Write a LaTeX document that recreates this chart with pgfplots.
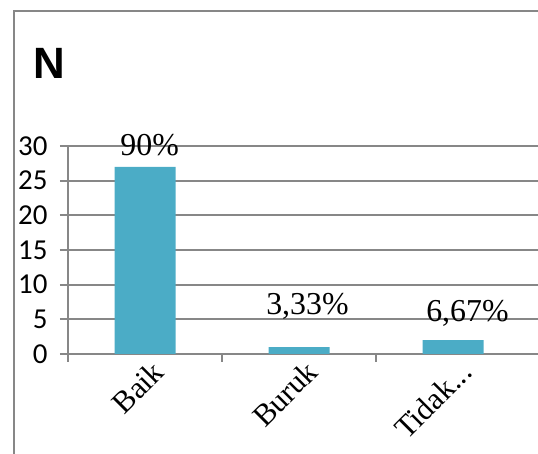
\documentclass[border=0pt]{standalone}
\usepackage{pgfplots}
\pgfplotsset{compat=1.18}
\usepackage{fontspec}
\setmainfont{Liberation Serif}
\newfontfamily\carlito{Carlito}
\newfontfamily\arialf{Liberation Sans}
\definecolor{barc}{HTML}{4BACC6}
\definecolor{gridc}{HTML}{878787}
\begin{document}
\begin{tikzpicture}[x=1bp,y=1bp]
\useasboundingbox (0,0) rectangle (538,454);
\draw[gridc, line width=2.2bp] (14,-5) -- (14,443) -- (545,443);
\node[anchor=base west, inner sep=0, font=\arialf\bfseries\fontsize{44}{44}\selectfont] at (33,375) {N};
\begin{axis}[
  at={(68bp,100bp)}, anchor=south west, scale only axis,
  width=470bp, height=208bp,
  xmin=-0.5, xmax=2.552, ymin=0, ymax=30,
  axis lines=left, axis line style={-, gridc, line width=2bp},
  ytick={0,5,...,30}, ymajorgrids, grid style={gridc, line width=2bp},
  xtick={-0.5,0.5,1.5}, xticklabels={},
  extra x ticks={0,1,2}, extra x tick labels={Baik,Buruk,{Tidak{.}{.}{.}}},
  extra x tick style={major tick length=0pt, grid=none,
     tick label style={rotate=45, anchor=north east, xshift=4bp, yshift=-4bp, font=\fontsize{31}{31}\selectfont}},
  tick align=outside, major tick length=8bp, tick style={gridc, line width=2bp},
  yticklabel style={font=\carlito\fontsize{29}{29}\selectfont, xshift=-9bp, /pgf/number format/assume math mode=true},
  clip=false,
]
\addplot[ybar, bar width=61bp, fill=barc, draw=none] coordinates {(0,27) (1,1) (2,2)};
\node[anchor=base, inner sep=0, font=\fontsize{32}{32}\selectfont] at (axis cs:0.03,28.7) {90\%};
\node[anchor=base, inner sep=0, font=\fontsize{32}{32}\selectfont] at (axis cs:1.055,5.63) {3,33\%};
\node[anchor=base, inner sep=0, font=\fontsize{32}{32}\selectfont] at (axis cs:2.094,4.62) {6,67\%};
\end{axis}
\end{tikzpicture}
\end{document}
